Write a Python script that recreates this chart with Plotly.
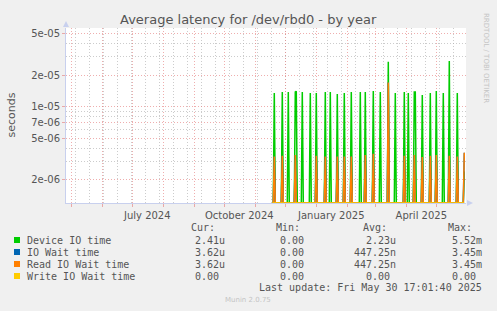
import pandas as pd
import numpy as np
import plotly.graph_objects as go

# ---------------- data ----------------
END = pd.Timestamp("2025-05-30 17:01:40")
START = END - pd.Timedelta(days=400)
DATA_START = "2024-11-18"
DATA_END = "2025-05-29"

device_dates = ["2024-11-20", "2024-11-28", "2024-12-04", "2024-12-11", "2024-12-12",
                "2024-12-18", "2024-12-26", "2025-01-01", "2025-01-10", "2025-01-15",
                "2025-01-22", "2025-01-29", "2025-02-05", "2025-02-14", "2025-02-19",
                "2025-02-27", "2025-03-06", "2025-03-14", "2025-03-21", "2025-03-30",
                "2025-04-03", "2025-04-09", "2025-04-10", "2025-04-17", "2025-04-25",
                "2025-05-01", "2025-05-08", "2025-05-14", "2025-05-22", "2025-05-29"]
device_values = [1.35e-5, 1.38e-5, 1.38e-5, 1.38e-5, 1.40e-5,
                 1.38e-5, 1.35e-5, 1.35e-5, 1.38e-5, 1.38e-5,
                 1.32e-5, 1.35e-5, 1.38e-5, 1.38e-5, 1.38e-5,
                 1.41e-5, 1.38e-5, 2.67e-5, 1.35e-5, 1.38e-5,
                 1.35e-5, 1.38e-5, 1.38e-5, 1.29e-5, 1.35e-5,
                 1.41e-5, 1.35e-5, 2.72e-5, 1.35e-5, 2.41e-6]

read_dates = ["2024-11-20", "2024-11-28", "2024-12-11", "2025-01-01", "2025-01-10",
              "2025-01-22", "2025-01-29", "2025-02-05", "2025-02-19", "2025-02-27",
              "2025-03-14", "2025-03-30", "2025-04-09", "2025-04-17", "2025-04-25",
              "2025-05-01", "2025-05-14", "2025-05-22", "2025-05-29"]
read_values = [3.34e-6, 3.40e-6, 3.45e-6, 3.40e-6, 3.34e-6,
               3.34e-6, 3.34e-6, 3.34e-6, 3.45e-6, 3.55e-6,
               1.70e-5, 3.40e-6, 3.45e-6, 3.30e-6, 3.40e-6,
               3.45e-6, 3.40e-6, 3.34e-6, 3.62e-6]

iowait_dates = read_dates
iowait_values = read_values
write_dates = []
write_values = []

series_names = ["Device IO time", "IO Wait time", "Read IO Wait time", "Write IO Wait time"]
series_colors = ["#00CC00", "#0066B3", "#FF8000", "#FFCC00"]
cur_text = ["2.41u", "3.62u", "3.62u", "0.00"]
min_text = ["0.00", "0.00", "0.00", "0.00"]
avg_text = ["2.23u", "447.25n", "447.25n", "0.00"]
max_text = ["5.52m", "3.45m", "3.45m", "0.00"]

y_tickvals = [5e-5, 2e-5, 1e-5, 7e-6, 5e-6, 2e-6]
y_ticktext = ["5e-05", "2e-05", "1e-05", "7e-06", "5e-06", "2e-06"]
y_minor = [4e-5, 3e-5, 9e-6, 8e-6, 6e-6, 4e-6, 3e-6]
Y_MIN, Y_MAX = 1.203e-6, 5.62e-5

x_label_months = {"2024-07-01": "July 2024", "2024-10-01": "October 2024",
                  "2025-01-01": "January 2025", "2025-04-01": "April 2025"}

# ---------------- layout constants ----------------
W, H = 497, 311
L, R, T, B = 66, 31, 28, 108
PW, PH = W - L - R, H - T - B

def px(x):
    return (x - L) / PW

def py(y):
    return (T + PH - y) / PH

days = pd.date_range(DATA_START, DATA_END, freq="D")

def daily(dates, vals):
    s = pd.Series(0.0, index=days)
    if len(dates):
        s.loc[pd.to_datetime(dates)] = vals
    # rrdtool draws non-positive values on a log axis at the floor of the graph
    return s.clip(lower=Y_MIN)

fig = go.Figure()
for name, color, d, v in zip(series_names, series_colors,
                             [device_dates, iowait_dates, read_dates, write_dates],
                             [device_values, iowait_values, read_values, write_values]):
    s = daily(d, v)
    fig.add_trace(go.Scatter(x=s.index, y=s.values, mode="lines", name=name,
                             line=dict(color=color, width=1.5), hoverinfo="skip",
                             showlegend=False))

month_starts = pd.date_range("2024-05-01", "2025-05-01", freq="MS")
month_text = [x_label_months.get(m.strftime("%Y-%m-%d"), "") for m in month_starts]
minor_x = pd.date_range("2024-05-05", END, freq="14D")

MGRID = "rgba(228,120,120,0.6)"
GRID = "rgba(170,170,170,0.6)"
AXIS = "#C8D0EE"
TXT = "#555555"

fig.update_layout(
    width=W, height=H,
    margin=dict(l=L, r=R, t=T, b=B, autoexpand=False),
    paper_bgcolor="#F0F0F0", plot_bgcolor="#FFFFFF",
    font=dict(family="DejaVu Sans", size=10, color=TXT),
    xaxis=dict(range=[START, END], tickvals=list(month_starts), ticktext=month_text,
               ticklabelshift=15, showgrid=True, gridcolor=MGRID, griddash="1px,2px",
               gridwidth=1, ticks="outside", ticklen=3, tickcolor=MGRID,
               showline=True, linecolor=AXIS, linewidth=1, zeroline=False,
               tickfont=dict(size=10, color=TXT), tickangle=0, automargin=False,
               minor=dict(tickvals=list(minor_x), showgrid=True, gridcolor=GRID,
                          griddash="1px,2px", ticks="")),
    yaxis=dict(type="log", range=[np.log10(Y_MIN), np.log10(Y_MAX)],
               tickvals=y_tickvals, ticktext=y_ticktext,
               showgrid=True, gridcolor=MGRID, griddash="1px,2px", gridwidth=1,
               ticks="outside", ticklen=3, tickcolor=MGRID,
               showline=True, linecolor=AXIS, linewidth=1, zeroline=False,
               tickfont=dict(size=10, color=TXT), automargin=False,
               minor=dict(tickvals=y_minor, showgrid=True, gridcolor=GRID,
                          griddash="1px,2px", ticks="")),
)

ann = []
def text(x, y, s, size=10, color=TXT, xanchor="left", family="DejaVu Sans Mono", angle=0):
    ann.append(dict(x=px(x), y=py(y), xref="paper", yref="paper", text=s, showarrow=False,
                    xanchor=xanchor, yanchor="middle", textangle=angle,
                    font=dict(family=family, size=size, color=color), borderpad=0))

text(248, 19, "Average latency for /dev/rbd0 - by year", size=13, color="#555555",
     xanchor="center", family="DejaVu Sans")
text(486, 58, "RRDTOOL / TOBI OETIKER", size=7, color="#C4C4C4", xanchor="center",
     family="DejaVu Sans", angle=90)
text(10.5, 115, "seconds", size=11, xanchor="center", family="DejaVu Sans", angle=-90)

header_y = 227.5
for label, x0 in [("Cur:", 190), ("Min:", 275), ("Avg:", 361.7), ("Max:", 446.7)]:
    text(x0, header_y, label)

CH = 6.02
row_y = [240, 252, 264, 276]
shapes = []
for i, name in enumerate(series_names):
    y = row_y[i]
    shapes.append(dict(type="rect", xref="paper", yref="paper",
                       x0=px(14), x1=px(20), y0=py(y + 3), y1=py(y - 3),
                       fillcolor=series_colors[i], line=dict(width=0)))
    text(26.3, y, name.replace(" ", "&nbsp;"))
    for vals, xend in [(cur_text, 226), (min_text, 311), (avg_text, 397), (max_text, 483.3)]:
        v = vals[i]
        off = 0 if v[-1].isalpha() else CH
        text(xend - off, y, v, xanchor="right")

text(483, 287.5, "Last update: Fri May 30 17:01:40 2025".replace(" ", "&nbsp;"), xanchor="right")
text(248, 300.3, "Munin 2.0.75", size=7, color="#C4C4C4", xanchor="center", family="DejaVu Sans")

# axis arrows
shapes.append(dict(type="path", xref="paper", yref="paper",
                   path=f"M {px(66)},{py(21)} L {px(63)},{py(27)} L {px(69)},{py(27)} Z",
                   fillcolor=AXIS, line=dict(width=0)))
shapes.append(dict(type="path", xref="paper", yref="paper",
                   path=f"M {px(473)},{py(203)} L {px(467)},{py(200)} L {px(467)},{py(206)} Z",
                   fillcolor=AXIS, line=dict(width=0)))

fig.update_layout(annotations=ann, shapes=shapes)
fig.write_html("out.html")
